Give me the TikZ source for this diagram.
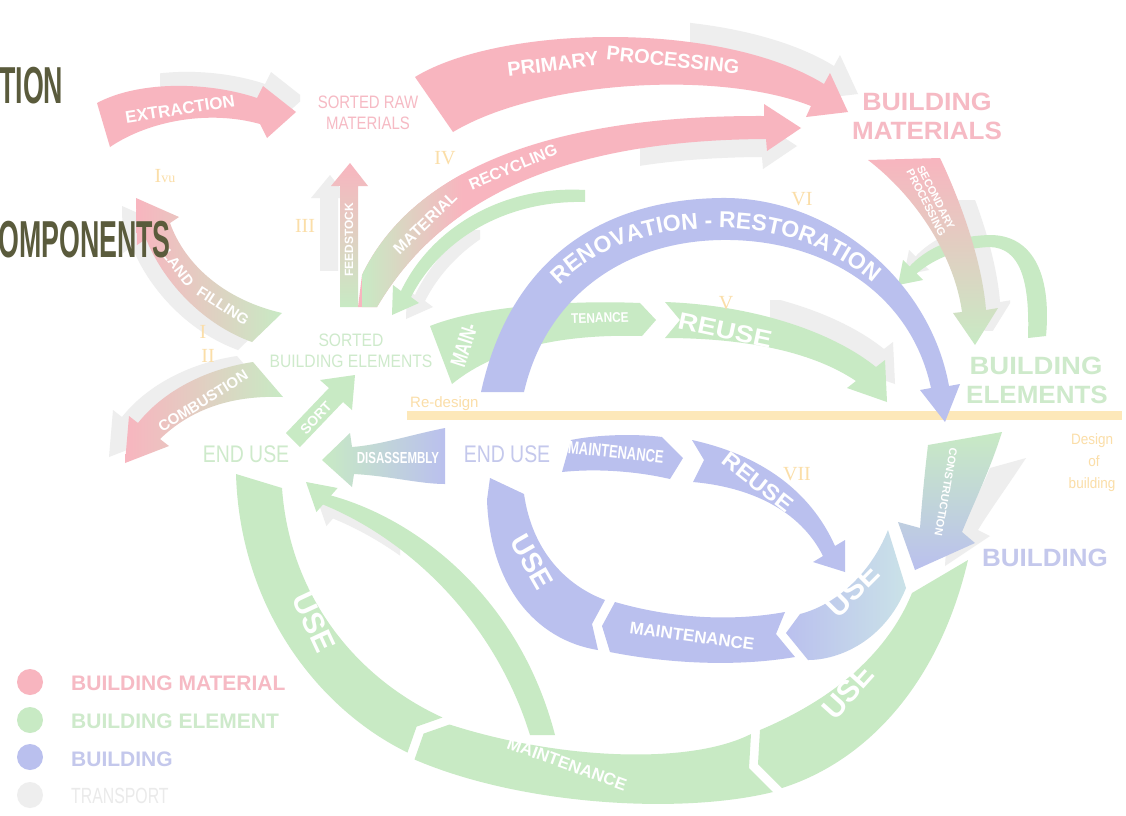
\documentclass[tikz,border=0pt]{standalone}
\usepackage{fontspec}
\usepackage{graphicx}
\setmainfont{Liberation Sans}
\newfontfamily\numfont{Liberation Serif}
\usetikzlibrary{decorations.text}

\definecolor{pinkc}{RGB}{248,181,191}
\definecolor{greenc}{RGB}{200,234,196}
\definecolor{bluec}{RGB}{186,192,238}
\definecolor{greyc}{RGB}{238,238,238}
\definecolor{orangec}{RGB}{250,214,165}
\definecolor{linec}{RGB}{253,232,185}
\definecolor{numc}{RGB}{251,222,168}
\definecolor{pinkt}{RGB}{246,186,196}
\definecolor{greent}{RGB}{206,234,203}
\definecolor{bluet}{RGB}{196,200,236}
\definecolor{greyt}{RGB}{234,234,234}
\definecolor{titlec}{RGB}{90,91,60}
\definecolor{tealc}{RGB}{202,226,232}

\newcommand\fs[1]{\fontsize{#1}{#1}\selectfont}
\newcommand\wtxt[1]{\fontsize{#1}{#1}\selectfont\bfseries\color{white}}
\newcommand\nrw[2]{\scalebox{#1}[1]{#2}}

% band shapes (image pixel coordinates, y downwards)
\def\pExtr{(97,103) .. controls (140,80) and (210,82) .. (257,98) -- (263,86) -- (296,112) -- (267,138) -- (260,124) .. controls (210,110) and (150,120) .. (110,147) -- cycle}
\def\pPrim{(415,77) .. controls (500,25) and (720,20) .. (824,84) -- (830,73) -- (848,112) -- (806,117) -- (811,106) .. controls (720,70) and (540,80) .. (453,132) -- cycle}
\def\pRecy{(362,275) .. controls (410,175) and (540,115) .. (764,116) -- (764,104) -- (801,128) -- (767,151) -- (766,139) .. controls (560,140) and (440,200) .. (377,307) -- (358,307) -- cycle}
\def\pFeed{(340,307) -- (340,186) -- (331,186) -- (350,163) -- (368,186) -- (358,186) -- (358,307) -- cycle}
\def\pLand{(282,313) .. controls (225,300) and (185,265) .. (170,223) -- (179,217) -- (136,198) -- (137,245) -- (146,239) .. controls (165,285) and (205,325) .. (252,342) -- cycle}
\def\pComb{(253,362) .. controls (200,370) and (160,395) .. (138,423) -- (129,416) -- (125,463) -- (169,446) -- (160,439) .. controls (190,410) and (230,395) .. (283,397) -- cycle}
\def\pSort{(286,433) -- (329,388) -- (320,380) -- (355,375) -- (352,410) -- (343,402) -- (300,447) -- cycle}
\def\pDis{(445,428) .. controls (410,435) and (380,445) .. (352,447) -- (350,433) -- (322,460) -- (352,487) -- (354,474) .. controls (390,476) and (420,484) .. (445,484) -- cycle}
\def\pArcA{(585,190) .. controls (500,185) and (430,230) .. (401,291) -- (393,285) -- (392,315) -- (419,303) -- (411,297) .. controls (440,240) and (505,200) .. (585,202) -- cycle}
\def\pMain{(430,326) .. controls (480,306) and (570,300) .. (640,303) -- (656,320) -- (642,336) .. controls (570,334) and (500,345) .. (452,384) -- cycle}
\def\pReuseG{(665,302) .. controls (750,305) and (830,330) .. (876,367) -- (885,360) -- (887,402) -- (847,388) -- (856,381) .. controls (810,350) and (740,338) .. (665,338) -- (680,320) -- cycle}
\def\pReno{(481,392) .. controls (510,260) and (600,200) .. (720,198) .. controls (830,196) and (930,280) .. (949,386) -- (960,384) -- (945,422) -- (920,390) -- (931,388) .. controls (910,290) and (820,238) .. (720,240) .. controls (620,242) and (545,300) .. (524,392) -- cycle}
\def\pSec{(868,160) -- (940,158) .. controls (960,200) and (982,260) .. (986,310) -- (998,308) -- (975,345) -- (953,313) -- (962,312) .. controls (955,260) and (920,200) .. (868,160) -- cycle}
\def\pArcB{(1046,336) .. controls (1052,270) and (1030,235) .. (990,235) .. controls (950,236) and (925,250) .. (909.5,266.5) -- (903,260) -- (898,285) -- (923,280) -- (916.5,273.5) .. controls (935,258) and (960,248) .. (990,247) .. controls (1020,248) and (1030,280) .. (1028,338) -- cycle}
\def\pCons{(928,445) -- (1002,432) .. controls (990,470) and (975,500) .. (962,532) -- (975,543) -- (915,570) -- (898,522) -- (920,528) .. controls (922,500) and (925,470) .. (928,445) -- cycle}
\def\pConsGrey{(990,468) -- (1026,458) .. controls (1005,490) and (990,510) .. (978,530) -- (990,536) -- (945,566) -- (948,520) -- (962,524) .. controls (972,505) and (982,488) .. (990,468) -- cycle}
\def\pMaintB{(571,440) .. controls (600,434) and (640,434) .. (662,437) -- (683,458) -- (670,479) .. controls (640,472) and (600,468) .. (562,472) -- cycle}
\def\pReuseB{(692,440) .. controls (760,455) and (810,490) .. (835,546) -- (845,540) -- (845,572) -- (813,562) -- (823,556) .. controls (800,510) and (750,487) .. (693,482) -- (704,460) -- cycle}
\def\pUseBR{(786,633) -- (800,614) .. controls (835,605) and (870,575) .. (888,530) -- (906,588) .. controls (885,640) and (840,660) .. (808,660) -- cycle}
\def\pMaintBB{(615,602) .. controls (670,618) and (730,622) .. (785,612) -- (776,634) -- (795,657) .. controls (730,668) and (660,662) .. (610,652) -- (602,626) -- cycle}
\def\pUseBL{(490,478) -- (524,494) .. controls (532,550) and (565,585) .. (605,600) -- (592,624) -- (598,650) .. controls (535,640) and (490,585) .. (487,500) -- cycle}
\def\pUseGR{(968,560) -- (912,593) .. controls (895,635) and (855,690) .. (760,730) -- (758,764) -- (782,788) .. controls (870,760) and (940,680) .. (968,560) -- cycle}
\def\pMaintG{(751,734) .. controls (690,765) and (560,760) .. (449.5,724.5) -- (423.6,733.6) -- (414.5,759.5) .. controls (520,805) and (680,815) .. (773,792) -- (749,768) -- cycle}
\def\pUseGL{(236,474) -- (282,488) .. controls (290,600) and (360,680) .. (442.5,717.5) -- (416.6,726.6) -- (407.5,752.5) .. controls (320,710) and (240,610) .. (236,474) -- cycle}
\def\pArcC{(331,495.5) .. controls (420,520) and (520,600) .. (555,735) -- (530,735) .. controls (495,622) and (410,540) .. (323,504.5) -- (316.4,512) -- (306,482) -- (337.6,488) -- cycle}

\tikzset{
  lbl/.style={inner sep=0pt, anchor=base},
  wlbl/.style={inner sep=0pt, text=white},
  num/.style={inner sep=0pt, text=numc, font=\numfont\fs{20}},
  legdot/.style={inner sep=0pt, minimum size=26pt, circle}
}

\begin{document}
\begin{tikzpicture}[x=1pt,y=-1pt]
\useasboundingbox (0,0) rectangle (1126,815);
\fill[white] (0,0) rectangle (1126,815);

% ---------- transport (grey) shadows ----------
\begin{scope}\clip (160,40) rectangle (300,160); \fill[greyc, shift={(8,-14)}] \pExtr; \end{scope}
\begin{scope}\clip (690,0) rectangle (880,140); \fill[greyc, shift={(10,-18)}] \pPrim; \end{scope}
\begin{scope}\clip (640,100) rectangle (800,180); \fill[greyc, shift={(-4,18)}] \pRecy; \end{scope}
\begin{scope}\clip (300,150) rectangle (345,270); \fill[greyc, shift={(-20,12)}] \pFeed; \end{scope}
\fill[greyc, shift={(-14,8)}] \pLand;
\fill[greyc, shift={(-16,-6)}] \pComb;
\begin{scope}\clip (400,230) rectangle (480,320); \fill[greyc, shift={(14,4)}] \pArcA; \end{scope}
\begin{scope}\clip (770,300) rectangle (900,420); \fill[greyc, shift={(8,-18)}] \pReuseG; \end{scope}
\begin{scope}\clip (950,200) rectangle (1010,330); \fill[greyc, shift={(14,-8)}] \pSec; \end{scope}
\begin{scope}\clip (880,230) rectangle (960,300); \fill[greyc, shift={(6,-10)}] \pArcB; \end{scope}
\fill[greyc] \pConsGrey;
\begin{scope}\clip (300,470) rectangle (400,580); \fill[greyc, shift={(10,14)}] \pArcC; \end{scope}

% ---------- design line ----------
\fill[linec] (407,411) rectangle (1122,420);

% ---------- building-element (green) arrows ----------
\fill[greenc] \pArcA;
\fill[greenc] \pArcB;
\fill[greenc] \pMain;
\fill[greenc] \pReuseG;
\fill[greenc] \pUseGR;
\fill[greenc] \pMaintG;
\fill[greenc] \pUseGL;
\fill[greenc] \pArcC;
\fill[greenc] \pSort;

% ---------- building (blue) arrows ----------
\fill[bluec] \pReno;
\fill[bluec] \pMaintB;
\fill[bluec] \pReuseB;
\shade[left color=bluec, right color=tealc] \pUseBR;
\fill[bluec] \pMaintBB;
\fill[bluec] \pUseBL;

% ---------- material (pink) and mixed arrows ----------
\fill[pinkc] \pExtr;
\fill[pinkc] \pPrim;
\begin{scope}
  \clip \pRecy;
  \fill[pinkc] (340,90) rectangle (820,320);
  \shade[left color=greenc, middle color=orangec, right color=pinkc] (362,120) rectangle (462,320);
\end{scope}
\shade[top color=pinkc, bottom color=greenc] \pFeed;
\shade[left color=pinkc, middle color=orangec, right color=greenc] \pLand;
\shade[left color=pinkc, middle color=orangec, right color=greenc] \pComb;
\shade[top color=pinkc, middle color=orangec, bottom color=greenc] \pSec;
\shade[left color=greenc, right color=bluec] \pDis;
\shade[top color=greenc, bottom color=bluec] \pCons;

% ---------- labels on arrows ----------
\node[wlbl, font=\bfseries\fs{17}, rotate=9] (tExtr) at (180,109) {EXTRACTION};
\node[wlbl, font=\bfseries\fs{20}, rotate=7] (tPrim1) at (553,64) {PRIMARY};
\node[wlbl, font=\bfseries\fs{20}, rotate=-6] (tPrim2) at (673,60) {PROCESSING};
\node[wlbl, font=\bfseries\fs{16}, rotate=44] (tRec1) at (425,223) {MATERIAL};
\node[wlbl, font=\bfseries\fs{16}, rotate=23] (tRec2) at (513,167) {RECYCLING};
\node[wlbl, font=\bfseries\fs{15}, rotate=-52] (tLand1) at (178,268) {LAND};
\node[wlbl, font=\bfseries\fs{15}, rotate=-33] (tLand2) at (223,306) {FILLING};
\node[wlbl, font=\bfseries\fs{15}, rotate=32] (tComb) at (203,401) {COMBUSTION};
\path[decorate, decoration={text along path, text align=center, text={|\wtxt{23}|RENOVATION - RESTORATION}}]
  (505,392) .. controls (532,275) and (612,228) .. (720,228) .. controls (828,228) and (915,295) .. (935,385);

\node[wlbl, font=\bfseries\fs{12}, rotate=90] (tFeed) at (349,240) {FEEDSTOCK};
\node[wlbl, font=\bfseries\fs{14}, rotate=47] (tSort) at (316,418) {SORT};
\node[wlbl, font=\bfseries\fs{16}] (tDis) at (398,458) {\nrw{0.72}{DISASSEMBLY}};
\node[wlbl, font=\bfseries\fs{22}, rotate=72] (tMain) at (464,345) {\nrw{0.7}{MAIN-}};
\node[wlbl, font=\bfseries\fs{14}, rotate=2] (tTen) at (600,318) {\nrw{0.85}{TENANCE}};
\node[wlbl, font=\bfseries\fs{24}, rotate=-12] (tReuseG) at (725,330) {\nrw{1.15}{REUSE}};
\node[wlbl, font=\bfseries\fs{11}, rotate=-63, align=center] (tSec) at (931,200) {SECONDARY\\PROCESSING};
\node[wlbl, font=\bfseries\fs{11}, rotate=-100] (tCons) at (946,492) {CONSTRUCTION};
\node[wlbl, font=\bfseries\fs{18}, rotate=-6] (tMaintB) at (616,452) {\nrw{0.72}{MAINTENANCE}};
\node[wlbl, font=\bfseries\fs{22}, rotate=-38] (tReuseB) at (758,482) {\nrw{1.1}{REUSE}};
\node[wlbl, font=\bfseries\fs{30}, rotate=45] (tUseBR) at (853,590) {USE};
\node[wlbl, font=\bfseries\fs{17}, rotate=-8] (tMaintBB) at (692,636) {MAINTENANCE};
\node[wlbl, font=\bfseries\fs{28}, rotate=-60] (tUseBL) at (532,562) {USE};
\node[wlbl, font=\bfseries\fs{30}, rotate=48] (tUseGR) at (848,692) {USE};
\node[wlbl, font=\bfseries\fs{17}, rotate=-20] (tMaintG) at (567,764) {MAINTENANCE};
\node[wlbl, font=\bfseries\fs{30}, rotate=-65] (tUseGL) at (314,622) {USE};

% ---------- stage labels ----------
\node[lbl, text=pinkt, font=\fs{18}] (sr1) at (368,108) {\nrw{0.83}{SORTED RAW}};
\node[lbl, text=pinkt, font=\fs{18}] (sr2) at (368,129) {\nrw{0.83}{MATERIALS}};
\node[lbl, text=pinkt, font=\bfseries\fs{25}] (bm1) at (927,110) {\nrw{1.07}{BUILDING}};
\node[lbl, text=pinkt, font=\bfseries\fs{25}] (bm2) at (927,139) {\nrw{1.04}{MATERIALS}};
\node[lbl, text=greent, font=\bfseries\fs{25}] (be1) at (1036,374) {\nrw{1.1}{BUILDING}};
\node[lbl, text=greent, font=\bfseries\fs{25}] (be2) at (1037,403) {\nrw{1.04}{ELEMENTS}};
\node[lbl, text=bluet, font=\bfseries\fs{25}] (bd) at (1045,566) {\nrw{1.04}{BUILDING}};
\node[lbl, text=greent, font=\fs{18}] (sb1) at (351,346) {\nrw{0.87}{SORTED}};
\node[lbl, text=greent, font=\fs{18}] (sb2) at (351,367) {\nrw{0.87}{BUILDING ELEMENTS}};
\node[lbl, text=greent, font=\fs{24}] (eu1) at (246,462) {\nrw{0.81}{END USE}};
\node[lbl, text=bluet, font=\fs{24}] (eu2) at (507,462) {\nrw{0.81}{END USE}};
\node[lbl, anchor=base west, text=numc, font=\fs{15}] (rd) at (410,407) {Re-design};
\node[lbl, text=numc, font=\fs{15}] (db1) at (1092,444) {\nrw{0.9}{Design}};
\node[lbl, text=numc, font=\fs{15}] (db2) at (1094,466) {\nrw{0.9}{of}};
\node[lbl, text=numc, font=\fs{15}] (db3) at (1092,488) {\nrw{0.9}{building}};

% ---------- roman numerals ----------
\node[num] (n1) at (203,332) {I};
\node[num] (n2) at (208,356) {II};
\node[num] (n3) at (305,226) {III};
\node[num] (n4) at (445,158) {IV};
\node[num] (n5) at (726,303) {V};
\node[num] (n6) at (802,199) {VI};
\node[num] (n7) at (797,474) {VII};
\node[num] (n8) at (165,176) {I{\fs{14}vu}};

% ---------- legend ----------
\node[legdot, fill=pinkc] (d1) at (30,682) {};
\node[legdot, fill=greenc] (d2) at (30,720) {};
\node[legdot, fill=bluec] (d3) at (30,757) {};
\node[legdot, fill=greyc] (d4) at (30,795) {};
\node[lbl, anchor=base west, text=pinkt, font=\bfseries\fs{21}] (l1) at (71,690) {BUILDING MATERIAL};
\node[lbl, anchor=base west, text=greent, font=\bfseries\fs{21}] (l2) at (71,728) {BUILDING ELEMENT};
\node[lbl, anchor=base west, text=bluet, font=\bfseries\fs{21}] (l3) at (71,766) {BUILDING};
\node[lbl, anchor=base west, text=greyt, font=\fs{22}] (l4) at (71,803) {\nrw{0.72}{TRANSPORT}};

% ---------- slide title fragments ----------
\node[lbl, anchor=base west, text=titlec, font=\bfseries\fs{52}] (t1) at (-1,103) {\nrw{0.515}{TION}};
\node[lbl, anchor=base west, text=titlec, font=\bfseries\fs{52}] (t2) at (-2,257) {\nrw{0.515}{OMPONENTS}};
\end{tikzpicture}
\end{document}
